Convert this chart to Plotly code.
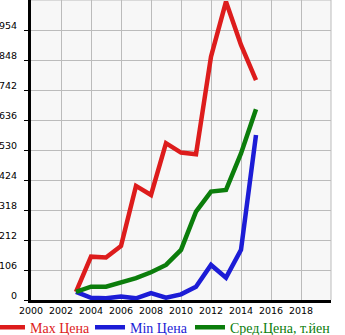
import plotly.graph_objects as go

years = [2003, 2004, 2005, 2006, 2007, 2008, 2009, 2010, 2011, 2012, 2013, 2014, 2015]
max_price = [29, 153, 150, 191, 403, 371, 554, 521, 515, 860, 1054, 901, 777]
min_price = [29, 8, 6, 12, 6, 24, 8, 20, 47, 124, 79, 177, 583]
avg_price = [29, 47, 47, 62, 77, 98, 124, 177, 312, 383, 389, 518, 674]

x_ticks = list(range(2000, 2019, 2))
y_ticks = [0, 106, 212, 318, 424, 530, 636, 742, 848, 954]

series = [
    ("Max Цена", max_price, "#dd1c1c", "legend", -0.1367),
    ("Min Цена", min_price, "#1c1cd6", "legend2", 0.1967),
    ("Сред.Цена, т.йен", avg_price, "#0b7d0b", "legend3", 0.53),
]

fig = go.Figure()
legend_cfg = {}
for name, vals, color, leg, lx in series:
    fig.add_trace(go.Scatter(
        x=years, y=vals, name=name, mode="lines", legend=leg,
        line=dict(color=color, width=4.5, shape="linear"),
    ))
    legend_cfg[leg] = dict(
        orientation="h", x=lx, xanchor="left", y=-0.092, yanchor="middle",
        font=dict(family="Liberation Serif", size=14, color=color),
        itemwidth=30, bgcolor="rgba(0,0,0,0)",
    )

fig.update_layout(
    width=345, height=335,
    margin=dict(l=31, r=14, t=0, b=35, autoexpand=False),
    paper_bgcolor="white",
    plot_bgcolor="#f7f7f7",
    showlegend=True,
    font=dict(family="DejaVu Sans", size=9.5, color="black"),
    **legend_cfg,
)
fig.update_xaxes(
    range=[2000, 2020], tickvals=x_ticks, ticktext=[str(v) for v in x_ticks],
    showgrid=True, gridcolor="#bbbbbb", gridwidth=1,
    showline=True, linecolor="black", linewidth=3,
    ticks="", zeroline=False, fixedrange=True,
)
fig.update_yaxes(
    range=[0, 1060], tickvals=y_ticks, ticktext=[str(v) for v in y_ticks],
    showgrid=True, gridcolor="#bbbbbb", gridwidth=1,
    showline=True, linecolor="black", linewidth=3,
    ticks="outside", ticklen=4, tickcolor="black", tickwidth=1,
    ticklabelstandoff=5, ticklabelshift=-4,
    zeroline=False, fixedrange=True,
)
# top and right borders as gray lines (grid continuation)
fig.add_shape(type="line", xref="paper", yref="paper", x0=0, x1=1, y0=1, y1=1,
              line=dict(color="#bbbbbb", width=1), layer="below")
fig.add_shape(type="line", xref="paper", yref="paper", x0=1, x1=1, y0=0, y1=1,
              line=dict(color="#bbbbbb", width=1), layer="below")

fig.write_html("out.html")
